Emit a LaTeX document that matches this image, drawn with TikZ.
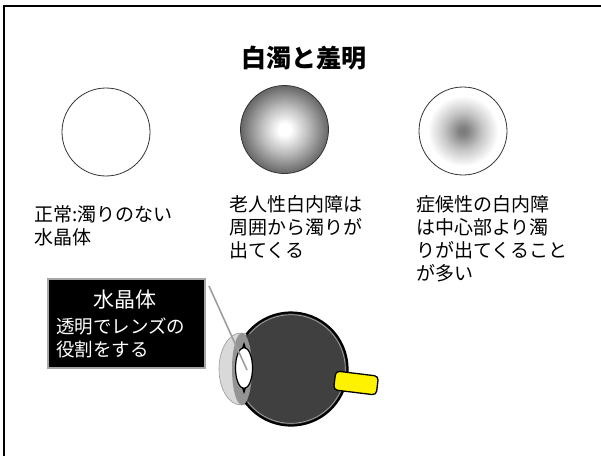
\documentclass[tikz,border=0pt]{standalone}
\usepackage{fontspec}
\usetikzlibrary{shapes.geometric}
\newfontfamily\jpfont{Noto Sans CJK JP}

% opacity profiles of the two kinds of cataract (disc rim at 25bp)
\pgfdeclareradialshading{senileshade}{\pgfpoint{0bp}{0bp}}{%
  color(0bp)=(white); color(3.5bp)=(white); color(13bp)=(black!25); color(25bp)=(black!60); color(50bp)=(black!60)}
\pgfdeclareradialshading{nuclearshade}{\pgfpoint{0bp}{0bp}}{%
  color(0bp)=(black!52); color(2.5bp)=(black!49); color(11bp)=(black!22); color(20bp)=(white); color(50bp)=(white)}

\begin{document}
\begin{tikzpicture}[x=1pt,y=1pt,
  txt/.style={font=\jpfont\fontsize{19}{23}\selectfont, align=left, inner sep=0pt, anchor=north west},
  lensdisc/.style={circle, minimum size=88pt, inner sep=0pt, draw=black!80, line width=0.8pt},
]
\useasboundingbox (0,0) rectangle (601,456);

% frame
\draw[line width=2pt] (4,0) -- (4,450) -- (601,450);

% heading
\node[font=\jpfont\bfseries\fontsize{25}{30}\selectfont] (title) at (304,398) {白濁と羞明};

% three lenses
\node[lensdisc, fill=white] (clear) at (106,324) {};
\node[lensdisc, shading=senileshade] (senile) at (284.5,326.5) {};
\node[lensdisc, shading=nuclearshade] (nuclear) at (463,325) {};

% captions
\node[txt] (cleartxt) at (34,251) {正常:濁りのない\\水晶体};
\node[txt] (seniletxt) at (229,261) {老人性白内障は\\周囲から濁りが\\出てくる};
\node[txt] (nucleartxt) at (416,261) {症候性の白内障\\は中心部より濁\\りが出てくること\\が多い};

% label box
\node[draw=black!35, line width=1.5pt, fill=black, minimum width=157pt, minimum height=89pt, inner sep=0pt] (lensbox) at (126.5,132.5) {};
\node[font=\jpfont\fontsize{21}{25}\selectfont, text=white, inner sep=0pt] (boxhead) at (125,156) {水晶体};
\node[txt, text=white, font=\jpfont\fontsize{18.5}{23}\selectfont] (boxbody) at (56,138) {透明でレンズの\\役割をする};

% eye: cornea
\fill[black!15, draw=black!40, line width=0.6pt] (241,87) ellipse [x radius=22, y radius=36];
% eye: globe
\coordinate (globe) at (291,87);
\fill[black!75] (globe) circle[radius=56.5];
\draw[black!35, line width=0.7pt] (globe) ++(140:54.3) arc[start angle=140, end angle=-143, radius=54.3];
\draw[line width=2.2pt] (globe) ++(142:56.5) arc[start angle=142, end angle=-147, radius=56.5];
% eye: iris / ciliary band
\fill[black!42] (242,87) ellipse [x radius=10, y radius=36];
% eye: lens
\node[ellipse, draw, line width=1.2pt, fill=white, minimum width=17pt, minimum height=41pt, inner sep=0pt] (lens) at (244,88) {};
\fill (lens.north) ++(-2,-1) -- ++(2,6) -- ++(2,-6) -- cycle;
\fill (lens.south) ++(-2,1) -- ++(2,-6) -- ++(2,6) -- cycle;
% eye: optic nerve
\node[draw, line width=1.3pt, fill=yellow, rounded corners=4pt, minimum width=43pt, minimum height=19pt, rotate=-7] (nerve) at (356,73) {};

% pointer from the label to the lens
\coordinate (ptrstart) at (209,170);
\coordinate (ptrend) at (247,86);
\draw[black!38, line width=1.6pt] (ptrstart) -- (ptrend);
\end{tikzpicture}
\end{document}
